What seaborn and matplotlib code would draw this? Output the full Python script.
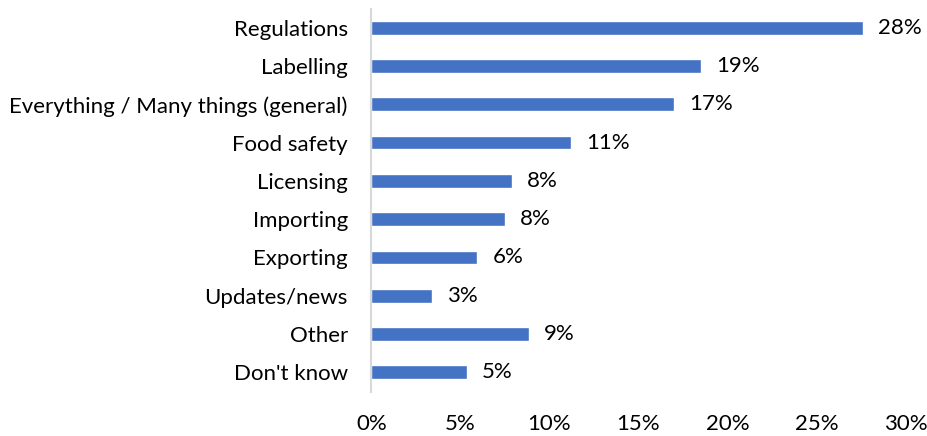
import matplotlib
matplotlib.use("Agg")
import matplotlib.pyplot as plt
from matplotlib.ticker import PercentFormatter
import pandas as pd
import seaborn as sns

# data
categories = ['Regulations', 'Labelling', 'Everything / Many things (general)',
              'Food safety', 'Licensing', 'Importing', 'Exporting',
              'Updates/news', 'Other', "Don't know"]
values = [27.6, 18.5, 17.0, 11.2, 7.9, 7.5, 5.95, 3.4, 8.85, 5.35]
value_labels = ['28%', '19%', '17%', '11%', '8%', '8%', '6%', '3%', '9%', '5%']
x_ticks = [0, 5, 10, 15, 20, 25, 30]

bar_color = '#4472C4'
text_color = '#000000'

sns.set_style('white')
plt.rcParams['font.family'] = ['Lato', 'DejaVu Sans']

df = pd.DataFrame({'category': categories, 'value': values})

fig = plt.figure(figsize=(9.28, 4.36), dpi=100)
ax = fig.add_axes([0.4003, 0.102, 0.5754, 0.8785])
sns.barplot(data=df, x='value', y='category', orient='h', color=bar_color,
            width=0.36, saturation=1, ax=ax)

ax.bar_label(ax.containers[0], labels=value_labels, padding=11,
             fontsize=16, color=text_color)

ax.set_xlim(0, 30)
ax.set_ylim(len(categories) - 0.5, -0.5)
ax.set_xticks(x_ticks)
ax.xaxis.set_major_formatter(PercentFormatter(decimals=0))
ax.set_xlabel('')
ax.set_ylabel('')
ax.tick_params(axis='both', length=0, labelsize=16, colors=text_color)
ax.tick_params(axis='x', pad=16)
ax.tick_params(axis='y', pad=17)
for side in ['top', 'right', 'bottom']:
    ax.spines[side].set_visible(False)
ax.spines['left'].set_color('#D9D9D9')
ax.spines['left'].set_linewidth(1.5)

fig.savefig('out.png', dpi=100)
